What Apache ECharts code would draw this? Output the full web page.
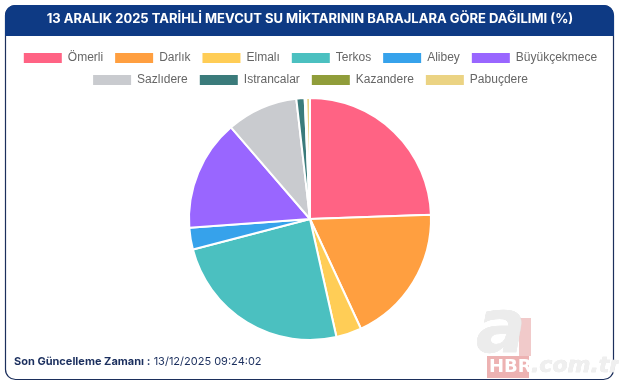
<!DOCTYPE html>
<html><head><meta charset="utf-8">
<script src="https://cdn.jsdelivr.net/npm/echarts@6/dist/echarts.min.js"></script>
<style>html,body{margin:0;padding:0;background:#fff;}#c{width:619px;height:387px;}</style>
</head><body><div id="c"></div>
<script>
const titleText = '13 ARALIK 2025 TARİHLİ MEVCUT SU MİKTARININ BARAJLARA GÖRE DAĞILIMI (%)';
const categories = ['Ömerli','Darlık','Elmalı','Terkos','Alibey','Büyükçekmece','Sazlıdere','Istrancalar','Kazandere','Pabuçdere'];
const values = [24.4, 18.6, 3.4, 24.4, 2.9, 14.8, 9.5, 1.1, 0.2, 0.5];
const colors = ['#ff6384','#ff9f40','#ffcd56','#4bc0c0','#36a2eb','#9966ff','#c9cbcf','#3b7b7b','#909d3a','#ebd383'];
const footerLabel = 'Son Güncelleme Zamanı';
const footerTime = '13/12/2025 09:24:02';

const legendBase = {
  left: 'center',
  itemWidth: 40, itemHeight: 12, itemGap: 10,
  icon: 'rect',
  textStyle: {color:'#666', fontSize:12, fontFamily:'Liberation Sans, Arial, sans-serif'}
};
const chart = echarts.init(document.getElementById('c'), null, {renderer:'canvas'});
chart.setOption({
  animation:false,
  color: colors,
  legend: [
    Object.assign({top: 46, data: categories.slice(0,6)}, legendBase),
    Object.assign({top: 68, data: categories.slice(6)}, legendBase)
  ],
  graphic: [
    {type:'rect', shape:{x:5.5,y:5.5,width:608,height:374,r:10}, style:{fill:'#fff',stroke:'#1c2f5c',lineWidth:1.2}, z:-10},
    {type:'rect', shape:{x:5,y:5,width:609,height:31,r:[10,10,0,0]}, style:{fill:'#0e3a84'}, z:-9},
    {type:'text', x:310, y:19, style:{text:titleText, fill:'#fff', font:'bold 13px Inter, "Noto Sans", sans-serif', textAlign:'center', textVerticalAlign:'middle'}},
    {type:'text', x:14, y:362, style:{
      text:'{b|'+footerLabel+' :} {n|'+footerTime+'}',
      rich:{b:{fill:'#1b2f5e',font:'bold 11px Inter, "Noto Sans", sans-serif'}, n:{fill:'#1b2f5e',font:'11px Inter, "Noto Sans", sans-serif'}},
      textVerticalAlign:'middle'}},
    // watermark
    {type:'rect', shape:{x:519,y:318,width:12,height:38}, style:{fill:'#f1caca'}, z:-5},
    {type:'text', x:476, y:296, style:{text:'a', fill:'#ececec', stroke:'#e0e0e0', lineWidth:0.5, font:'italic bold 74px "DejaVu Sans", sans-serif'}, z:-4},
    {type:'rect', shape:{x:487,y:356,width:42,height:22}, style:{fill:'#edb2b2'}, z:-5},
    {type:'text', x:489, y:367, style:{text:'HBR', fill:'#fff', font:'bold 18px "DejaVu Sans", sans-serif', textVerticalAlign:'middle'}, z:-4},
    {type:'text', x:531, y:366, style:{text:'.com.tr', fill:'#efefef', stroke:'#e2e2e2', lineWidth:0.5, font:'italic bold 22px "DejaVu Sans", sans-serif', textVerticalAlign:'middle'}, z:-4}
  ],
  series: [{
    type:'pie',
    center:[310,219],
    radius:[0,121],
    startAngle:90,
    clockwise:true,
    label:{show:false}, labelLine:{show:false},
    itemStyle:{borderColor:'#fff', borderWidth:2},
    emphasis:{disabled:true},
    data: categories.map((n,i)=>({name:n, value:values[i]}))
  }]
});
</script></body></html>
